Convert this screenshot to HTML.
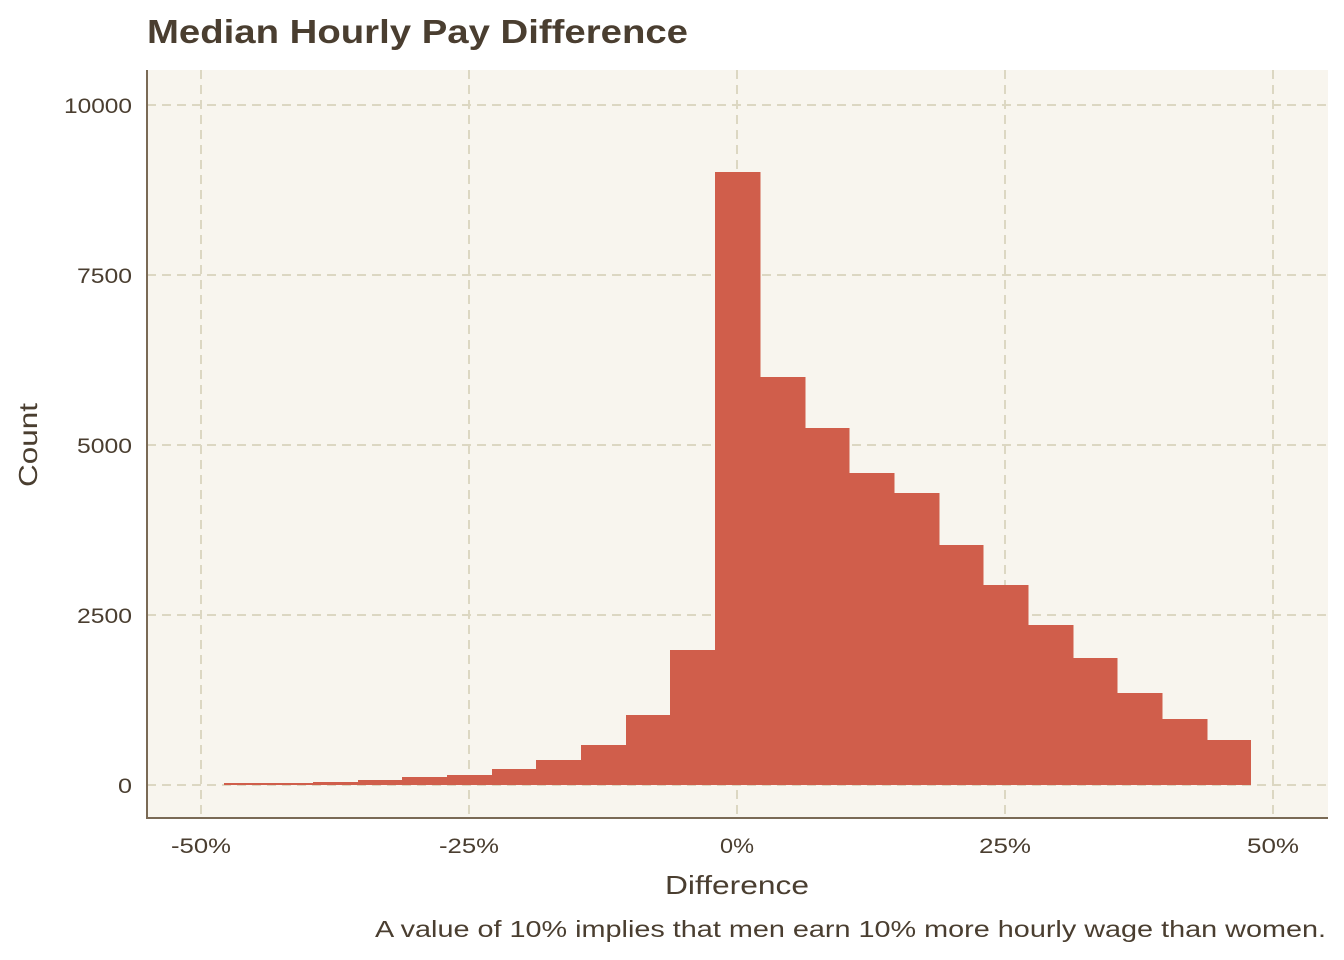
<!DOCTYPE html>
<html><head><style>
body{margin:0;background:#fff;}
svg{display:block;font-family:"Liberation Sans",Arial,sans-serif;}
</style></head><body>
<svg width="1344" height="960" viewBox="0 0 1344 960" xmlns="http://www.w3.org/2000/svg">
<rect width="1344" height="960" fill="#ffffff"/>
<text x="147" y="43" font-size="33" font-weight="bold" fill="#4a3e30" textLength="541" lengthAdjust="spacingAndGlyphs">Median Hourly Pay Difference</text>
<rect x="147" y="70" width="1181" height="748" fill="#f8f5ee"/>
<g stroke="#dcd7c2" stroke-width="2" stroke-dasharray="9,6" fill="none">
<line x1="147" y1="785" x2="1328" y2="785"/>
<line x1="147" y1="615" x2="1328" y2="615"/>
<line x1="147" y1="445" x2="1328" y2="445"/>
<line x1="147" y1="275" x2="1328" y2="275"/>
<line x1="147" y1="105" x2="1328" y2="105"/>
<line x1="201" y1="70" x2="201" y2="818"/>
<line x1="469" y1="70" x2="469" y2="818"/>
<line x1="737" y1="70" x2="737" y2="818"/>
<line x1="1005" y1="70" x2="1005" y2="818"/>
<line x1="1273" y1="70" x2="1273" y2="818"/>
</g>
<g fill="#d05e4b">
<rect x="224" y="783" width="44.5" height="2"/>
<rect x="268" y="783" width="45.5" height="2"/>
<rect x="313" y="782" width="45.5" height="3"/>
<rect x="358" y="780" width="44.5" height="5"/>
<rect x="402" y="777" width="45.5" height="8"/>
<rect x="447" y="775" width="45.5" height="10"/>
<rect x="492" y="769" width="44.5" height="16"/>
<rect x="536" y="760" width="45.5" height="25"/>
<rect x="581" y="745" width="45.5" height="40"/>
<rect x="626" y="715" width="44.5" height="70"/>
<rect x="670" y="650" width="45.5" height="135"/>
<rect x="715" y="172" width="45.5" height="613"/>
<rect x="760" y="377" width="45.5" height="408"/>
<rect x="805" y="428" width="44.5" height="357"/>
<rect x="849" y="473" width="45.5" height="312"/>
<rect x="894" y="493" width="45.5" height="292"/>
<rect x="939" y="545" width="44.5" height="240"/>
<rect x="983" y="585" width="45.5" height="200"/>
<rect x="1028" y="625" width="45.5" height="160"/>
<rect x="1073" y="658" width="44.5" height="127"/>
<rect x="1117" y="693" width="45.5" height="92"/>
<rect x="1162" y="719" width="45.5" height="66"/>
<rect x="1207" y="740" width="44" height="45"/>
</g>
<g stroke="#7a6a55" stroke-width="2">
<line x1="147" y1="70" x2="147" y2="819"/>
<line x1="146" y1="818" x2="1328" y2="818"/>
</g>
<g font-size="21" fill="#4a3e30" text-anchor="end">
<text x="132" y="793" textLength="14" lengthAdjust="spacingAndGlyphs">0</text>
<text x="132" y="623" textLength="55" lengthAdjust="spacingAndGlyphs">2500</text>
<text x="132" y="453" textLength="55" lengthAdjust="spacingAndGlyphs">5000</text>
<text x="132" y="283" textLength="55" lengthAdjust="spacingAndGlyphs">7500</text>
<text x="132" y="113" textLength="68" lengthAdjust="spacingAndGlyphs">10000</text>
</g>
<g font-size="21" fill="#4a3e30" text-anchor="middle">
<text x="201" y="853" textLength="60" lengthAdjust="spacingAndGlyphs">-50%</text>
<text x="469" y="853" textLength="60" lengthAdjust="spacingAndGlyphs">-25%</text>
<text x="737" y="853" textLength="34" lengthAdjust="spacingAndGlyphs">0%</text>
<text x="1005" y="853" textLength="52" lengthAdjust="spacingAndGlyphs">25%</text>
<text x="1273" y="853" textLength="52" lengthAdjust="spacingAndGlyphs">50%</text>
</g>
<text x="737" y="894" font-size="26" fill="#4a3e30" text-anchor="middle" textLength="144" lengthAdjust="spacingAndGlyphs">Difference</text>
<text transform="translate(37,445) rotate(-90)" font-size="26" fill="#4a3e30" text-anchor="middle" textLength="84" lengthAdjust="spacingAndGlyphs">Count</text>
<text x="1326" y="937" font-size="23" fill="#4a3e30" text-anchor="end" textLength="951" lengthAdjust="spacingAndGlyphs">A value of 10% implies that men earn 10% more hourly wage than women.</text>
</svg>
</body></html>
